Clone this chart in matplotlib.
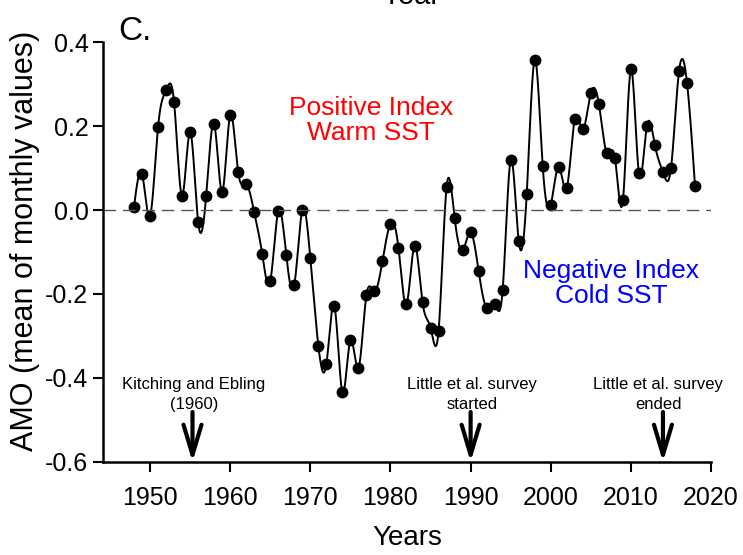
import numpy as np
import matplotlib
matplotlib.use('Agg')
import matplotlib.pyplot as plt

plt.rcParams['font.family'] = ['Liberation Sans', 'DejaVu Sans']

# Annual AMO index (mean of monthly values)
years = list(range(1948, 2019))
amo = [0.007, 0.086, -0.015, 0.197, 0.285, 0.257, 0.034, 0.186, -0.028, 0.033,
       0.205, 0.043, 0.226, 0.090, 0.062, -0.005, -0.105, -0.170, -0.003, -0.107,
       -0.178, 0.000, -0.115, -0.323, -0.367, -0.228, -0.434, -0.310, -0.377, -0.203,
       -0.194, -0.122, -0.033, -0.090, -0.225, -0.085, -0.220, -0.280, -0.288, 0.054,
       -0.018, -0.096, -0.053, -0.145, -0.233, -0.224, -0.190, 0.120, -0.073, 0.038,
       0.358, 0.104, 0.013, 0.103, 0.052, 0.217, 0.192, 0.278, 0.253, 0.135,
       0.125, 0.023, 0.335, 0.087, 0.200, 0.154, 0.090, 0.100, 0.330, 0.303,
       0.057]

events = ['Kitching and Ebling\n(1960)', 'Little et al. survey\nstarted', 'Little et al. survey\nended']
event_years = [1955.3, 1990, 2014]
event_text_x = [1955.5, 1990.2, 2013.4]


def natural_spline(x, y, xs):
    """plain natural cubic spline, like the smoothed line in the original"""
    x = np.asarray(x, float)
    y = np.asarray(y, float)
    n = len(x)
    h = np.diff(x)
    A = np.zeros((n, n))
    b = np.zeros(n)
    A[0, 0] = A[-1, -1] = 1
    for i in range(1, n - 1):
        A[i, i - 1] = h[i - 1]
        A[i, i] = 2 * (h[i - 1] + h[i])
        A[i, i + 1] = h[i]
        b[i] = 6 * ((y[i + 1] - y[i]) / h[i] - (y[i] - y[i - 1]) / h[i - 1])
    m = np.linalg.solve(A, b)
    k = np.clip(np.searchsorted(x, xs) - 1, 0, n - 2)
    t = xs - x[k]
    hk = h[k]
    a = (m[k + 1] - m[k]) / (6 * hk)
    bb = m[k] / 2
    c = (y[k + 1] - y[k]) / hk - hk * (2 * m[k] + m[k + 1]) / 6
    return y[k] + c * t + bb * t ** 2 + a * t ** 3


fig = plt.figure(figsize=(7.43, 5.55), dpi=100)
ax = fig.add_axes([0.1386, 0.1676, 0.9570 - 0.1386, 0.9243 - 0.1676])

xs = np.linspace(years[0], years[-1], 2000)
ax.plot(xs, natural_spline(years, amo, xs), color='black', lw=1.4)
ax.plot(years, amo, 'o', color='black', markersize=7.5)
ax.axhline(0, color='#555555', lw=1, dashes=(9, 5))

ax.set_xlim(1944.13, 2020)
ax.set_ylim(-0.6, 0.4)
ax.set_xticks(range(1950, 2021, 10))
ax.set_yticks(np.arange(-0.6, 0.41, 0.2))
ax.set_yticklabels(['-0.6', '-0.4', '-0.2', '0.0', '0.2', '0.4'])
ax.tick_params(labelsize=18, length=7, width=1.5, direction='out')
ax.tick_params(axis='x', pad=10)

for pos in ['right', 'top']:
    ax.spines[pos].set_visible(False)
for pos in ['left', 'bottom']:
    ax.spines[pos].set_linewidth(1.8)

ax.set_xlabel('Years', fontsize=20, labelpad=11)
ax.set_ylabel('AMO (mean of monthly values)', fontsize=22)
ax.yaxis.set_label_coords(-0.104, 0.526)

# Index labels
ax.text(1977.6, 0.212, 'Positive Index\nWarm SST', color='red', fontsize=19,
        ha='center', va='center', linespacing=1.05)
ax.text(2007.55, -0.174, 'Negative Index\nCold SST', color='blue', fontsize=19,
        ha='center', va='center', linespacing=1.05)

# Survey arrows
for label, yr, tx in zip(events, event_years, event_text_x):
    ax.text(tx, -0.44, label, fontsize=12, ha='center', va='center', linespacing=1.4)
    ax.annotate('', xy=(yr, -0.6), xytext=(yr, -0.481),
                arrowprops=dict(arrowstyle='->,head_length=0.6,head_width=0.18',
                                lw=3, color='black', mutation_scale=36,
                                shrinkA=0, shrinkB=0),
                annotation_clip=False)

fig.text(118 / 743, 1 - 40 / 555, 'C.', fontsize=24, ha='left', va='baseline')
# axis title of the panel above, cut off by the crop
fig.text(411 / 743, 1 - 4 / 555, 'Year', fontsize=21, ha='center', va='baseline')

fig.savefig('out.png', dpi=100)
